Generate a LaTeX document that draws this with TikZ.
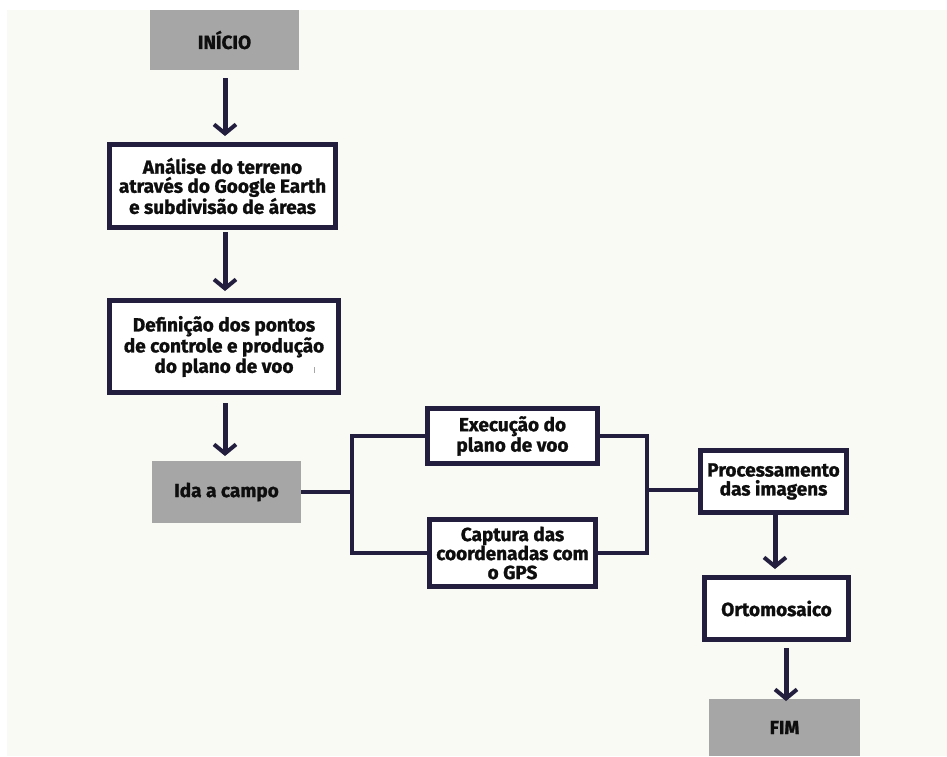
\documentclass[tikz,border=0pt]{standalone}
\usepackage{fontspec}
\setmainfont{Fira Sans}[BoldFeatures={FakeBold=1.2}]
\usetikzlibrary{arrows.meta,calc}
\definecolor{navy}{HTML}{231E3D}
\definecolor{boxgray}{HTML}{A6A6A6}
\definecolor{paper}{HTML}{FAFAF5}
\definecolor{ink}{HTML}{0E0E0E}
\tikzset{
  txt/.style={font=\bfseries\fontsize{19}{19}\selectfont, text=ink, align=center, inner sep=0pt},
  graybox/.style={txt, fill=boxgray},
  framebox/.style={txt, draw=navy, line width=5pt, fill=white},
  arr/.style={draw=navy, line width=5pt, -{Straight Barb[length=9pt,width=22pt,line width=4pt]}},
  link/.style={draw=navy, line width=4pt}
}
\begin{document}
\begin{tikzpicture}[x=1pt,y=-1pt]
\useasboundingbox (0,0) rectangle (947,756);
\fill[white] (0,0) rectangle (947,756);
\fill[paper] (7,10) rectangle (947,756);
\begin{scope}
\clip (0,0) rectangle (947,756);
\node[graybox, minimum width=149pt, minimum height=60pt] (inicio) at (224.5,40) {INÍCIO};
\node[framebox, minimum width=226pt, minimum height=83pt] (b1) at (222.5,186) {Análise do terreno\\através do Google Earth\\ e subdivisão de áreas};
\node[framebox, minimum width=229pt, minimum height=92pt] (b2) at (224,346.5) {Definição dos pontos\\de controle e produção\\do plano de voo};
\node[graybox, minimum width=149pt, minimum height=62pt] (ida) at (226.5,492) {Ida a campo};
\node[framebox, minimum width=170pt, minimum height=55pt] (exec) at (512.5,436) {Execução do\\plano de voo};
\node[framebox, minimum width=166pt, minimum height=67pt] (capt) at (512.5,553) {Captura das\\coordenadas com\\o GPS};
\node[framebox, minimum width=146pt, minimum height=62pt] (proc) at (773.5,481.5) {Processamento\\das imagens};
\node[framebox, minimum width=144pt, minimum height=62pt] (orto) at (776.5,608.5) {Ortomosaico};
\node[graybox, minimum width=151pt, minimum height=57pt] (fim) at (784.5,727.5) {FIM};
\end{scope}
% stray mark
\draw[boxgray, line width=0.8pt] (314,367) -- (314,373);
% arrows
\coordinate (a1s) at (225,78); \coordinate (a1e) at (225,136);
\coordinate (a2s) at (225,232); \coordinate (a2e) at (225,291);
\coordinate (a3s) at (225,403); \coordinate (a3e) at (225,456);
\coordinate (a4s) at (775,515); \coordinate (a4e) at (775,569);
\coordinate (a5s) at (786,648); \coordinate (a5e) at (786,701);
\draw[arr] (a1s) -- (a1e);
\draw[arr] (a2s) -- (a2e);
\draw[arr] (a3s) -- (a3e);
\draw[arr] (proc.south -| a4s) -- (a4e);
\draw[arr] (a5s) -- (a5e);
% brackets
\coordinate (lb) at (352,492);
\coordinate (rb) at (647,490);
\draw[link] (ida.east) -- (lb);
\draw[link] (exec.west) -| (lb) |- (capt.west);
\draw[link] (exec.east) -| (rb) |- (capt.east);
\draw[link] (rb) -- (rb -| proc.west);
\end{tikzpicture}
\end{document}
